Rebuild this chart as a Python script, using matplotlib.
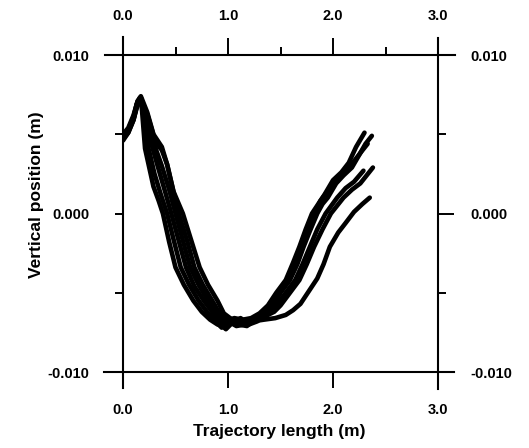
import matplotlib
matplotlib.use("Agg")
import matplotlib.pyplot as plt
from matplotlib.ticker import FormatStrFormatter

plt.rcParams['font.family'] = ['Liberation Sans', 'DejaVu Sans']
plt.rcParams['font.weight'] = 'bold'

# ---------------------------------------------------------------------------
# data: trajectory length (m), vertical position (m) for each run
# ---------------------------------------------------------------------------
run1 = [(0, 0.0047), (0.05, 0.0052), (0.10, 0.0060), (0.13, 0.0069), (0.16, 0.0073),
        (0.18, 0.0066), (0.21, 0.0041), (0.25, 0.0029), (0.29, 0.0017), (0.34, 0.0008),
        (0.38, 0.0000), (0.44, -0.0018), (0.50, -0.0034), (0.58, -0.0045), (0.67, -0.0055),
        (0.75, -0.0062), (0.83, -0.0067), (0.90, -0.0070), (0.95, -0.0071), (1.00, -0.0068),
        (1.06, -0.0066), (1.14, -0.0067), (1.22, -0.0066), (1.30, -0.0063), (1.38, -0.0058),
        (1.46, -0.0050), (1.55, -0.0042), (1.62, -0.0031), (1.68, -0.0021), (1.74, -0.0010),
        (1.80, 0.0000), (1.86, 0.0006), (1.92, 0.0012), (2.00, 0.0021), (2.08, 0.0026),
        (2.15, 0.0032), (2.22, 0.0042), (2.30, 0.0051)]

run2 = [(0, 0.0049), (0.05, 0.0053), (0.10, 0.0061), (0.14, 0.0071), (0.17, 0.0073),
        (0.20, 0.0064), (0.24, 0.0042), (0.30, 0.0025), (0.36, 0.0012), (0.42, 0.0),
        (0.48, -0.0016), (0.55, -0.0034), (0.63, -0.0045), (0.72, -0.0055), (0.80, -0.0062),
        (0.88, -0.0068), (0.94, -0.0072), (0.99, -0.0070), (1.05, -0.0067), (1.12, -0.0069),
        (1.20, -0.0068), (1.30, -0.0064), (1.42, -0.0059), (1.50, -0.0050), (1.59, -0.0042),
        (1.66, -0.0032), (1.72, -0.0021), (1.78, -0.0011), (1.85, 0.0), (1.90, 0.0006),
        (1.95, 0.0010), (2.03, 0.0019), (2.10, 0.0024), (2.18, 0.0029), (2.25, 0.0037),
        (2.31, 0.0044), (2.37, 0.0049)]

run3 = [(0, 0.0046), (0.05, 0.0051), (0.10, 0.0059), (0.14, 0.0070), (0.17, 0.0072),
        (0.21, 0.0062), (0.27, 0.0044), (0.33, 0.0030), (0.40, 0.0014), (0.46, 0.0),
        (0.53, -0.0017), (0.60, -0.0034), (0.68, -0.0046), (0.77, -0.0055), (0.86, -0.0063),
        (0.93, -0.0070), (0.98, -0.0073), (1.04, -0.0069), (1.12, -0.0066), (1.20, -0.0070),
        (1.28, -0.0068), (1.37, -0.0063), (1.46, -0.0058), (1.55, -0.0050), (1.64, -0.0042),
        (1.71, -0.0032), (1.78, -0.0021), (1.85, -0.0010), (1.93, 0.0), (2.04, 0.0010),
        (2.12, 0.0016), (2.20, 0.0020), (2.29, 0.0027)]

run4 = [(0, 0.0048), (0.05, 0.0052), (0.10, 0.0060), (0.14, 0.0070), (0.17, 0.0073),
        (0.22, 0.0063), (0.30, 0.0043), (0.37, 0.0030), (0.44, 0.0015), (0.50, 0.0),
        (0.57, -0.0017), (0.64, -0.0034), (0.72, -0.0045), (0.81, -0.0055), (0.90, -0.0064),
        (0.96, -0.0069), (1.02, -0.0067), (1.10, -0.0070), (1.18, -0.0071), (1.26, -0.0067),
        (1.35, -0.0065), (1.44, -0.0062), (1.50, -0.0058), (1.59, -0.0050), (1.68, -0.0042),
        (1.75, -0.0032), (1.82, -0.0021), (1.90, -0.0010), (1.98, 0.0), (2.10, 0.0010),
        (2.18, 0.0015), (2.26, 0.0019), (2.32, 0.0024), (2.38, 0.0029)]

run5 = [(0, 0.0047), (0.05, 0.0051), (0.10, 0.0059), (0.14, 0.0069), (0.17, 0.0072),
        (0.23, 0.0063), (0.31, 0.0045), (0.37, 0.0040), (0.42, 0.0031), (0.48, 0.0014),
        (0.53, 0.0), (0.61, -0.0017), (0.68, -0.0034), (0.76, -0.0045), (0.85, -0.0055),
        (0.93, -0.0064), (1.00, -0.0068), (1.08, -0.0071), (1.16, -0.0070), (1.24, -0.0068),
        (1.34, -0.0067), (1.45, -0.0066), (1.55, -0.0064), (1.62, -0.0061), (1.69, -0.0057),
        (1.77, -0.0049), (1.85, -0.0041), (1.91, -0.0032), (1.97, -0.0021), (2.05, -0.0012),
        (2.12, -0.0006), (2.20, 0.0001), (2.28, 0.0006), (2.35, 0.0010)]

run6 = [(0, 0.0050), (0.05, 0.0054), (0.10, 0.0062), (0.14, 0.0071), (0.17, 0.0074),
        (0.23, 0.0064), (0.29, 0.0050), (0.37, 0.0042), (0.42, 0.0031), (0.48, 0.0014),
        (0.57, 0.0), (0.65, -0.0017), (0.73, -0.0034), (0.81, -0.0045), (0.90, -0.0055),
        (0.96, -0.0063), (1.02, -0.0066), (1.10, -0.0068), (1.18, -0.0067), (1.25, -0.0068),
        (1.32, -0.0063), (1.40, -0.0060), (1.47, -0.0052), (1.56, -0.0042), (1.64, -0.0032),
        (1.70, -0.0021), (1.76, -0.0011), (1.82, 0.0), (1.88, 0.0008), (1.96, 0.0015),
        (2.04, 0.0022), (2.12, 0.0027), (2.20, 0.0033), (2.27, 0.0039), (2.33, 0.0044)]

runs = [run1, run2, run3, run4, run5, run6]

x_major = [0.0, 1.0, 2.0, 3.0]
x_minor_top = [0.5, 1.5, 2.5]
y_major = [-0.010, 0.000, 0.010]
y_minor = [-0.005, 0.005]

# ---------------------------------------------------------------------------
# figure
# ---------------------------------------------------------------------------
fig = plt.figure(figsize=(5.29, 4.48), dpi=100)
ax = fig.add_axes([123 / 529, 1 - 372 / 448, 315 / 529, 317 / 448])

for run in runs:
    xs = [p[0] for p in run]
    ys = [p[1] for p in run]
    ax.plot(xs, ys, color='black', lw=3.3,
            solid_capstyle='round', solid_joinstyle='round')

ax.set_xlim(0, 3.0)
ax.set_ylim(-0.010, 0.010)

# frame lines run past the corners like in the original
for s in ax.spines.values():
    s.set_visible(False)
frame_kw = dict(color='black', lw=1.5, transform=ax.transAxes, clip_on=False)
ax.plot([-0.057, 1.054], [1, 1], **frame_kw)
ax.plot([-0.060, 1.051], [0, 0], **frame_kw)
ax.plot([0, 0], [-0.050, 1.057], **frame_kw)
ax.plot([1, 1], [-0.053, 1.055], **frame_kw)

# bottom / left
ax.set_xticks(x_major)
ax.xaxis.set_major_formatter(FormatStrFormatter('%.1f'))
ax.tick_params(axis='x', which='major', direction='out', length=11.5, width=1.4,
               pad=11, labelsize=10.5)
ax.set_yticks(y_major)
ax.set_yticks(y_minor, minor=True)
ax.yaxis.set_major_formatter(FormatStrFormatter('%.3f'))
ax.tick_params(axis='y', which='both', direction='out', length=6, width=1.4,
               pad=18, labelsize=10.5)

# top
top = ax.secondary_xaxis('top')
top.set_xticks(x_major)
top.set_xticks(x_minor_top, minor=True)
top.xaxis.set_major_formatter(FormatStrFormatter('%.1f'))
top.tick_params(axis='x', which='major', direction='out', length=12, width=1.4,
                pad=11, labelsize=10.5)
top.tick_params(axis='x', which='minor', direction='out', length=6, width=1.4)
for s in top.spines.values():
    s.set_visible(False)

# right
right = ax.secondary_yaxis('right')
right.set_yticks(y_major)
right.set_yticks(y_minor, minor=True)
right.yaxis.set_major_formatter(FormatStrFormatter('%.3f'))
right.tick_params(axis='y', which='major', direction='out', length=11.5, width=1.4,
                  pad=12, labelsize=10.5)
right.tick_params(axis='y', which='minor', direction='out', length=6, width=1.4)
for s in right.spines.values():
    s.set_visible(False)

ax.set_xlabel('Trajectory length (m)', fontsize=12.5, fontweight='bold')
ax.xaxis.set_label_coords(0.495, -0.163)
ax.set_ylabel('Vertical position (m)', fontsize=12.5, fontweight='bold')
ax.yaxis.set_label_coords(-0.252, 0.56)

plt.savefig('out.png', dpi=100)
